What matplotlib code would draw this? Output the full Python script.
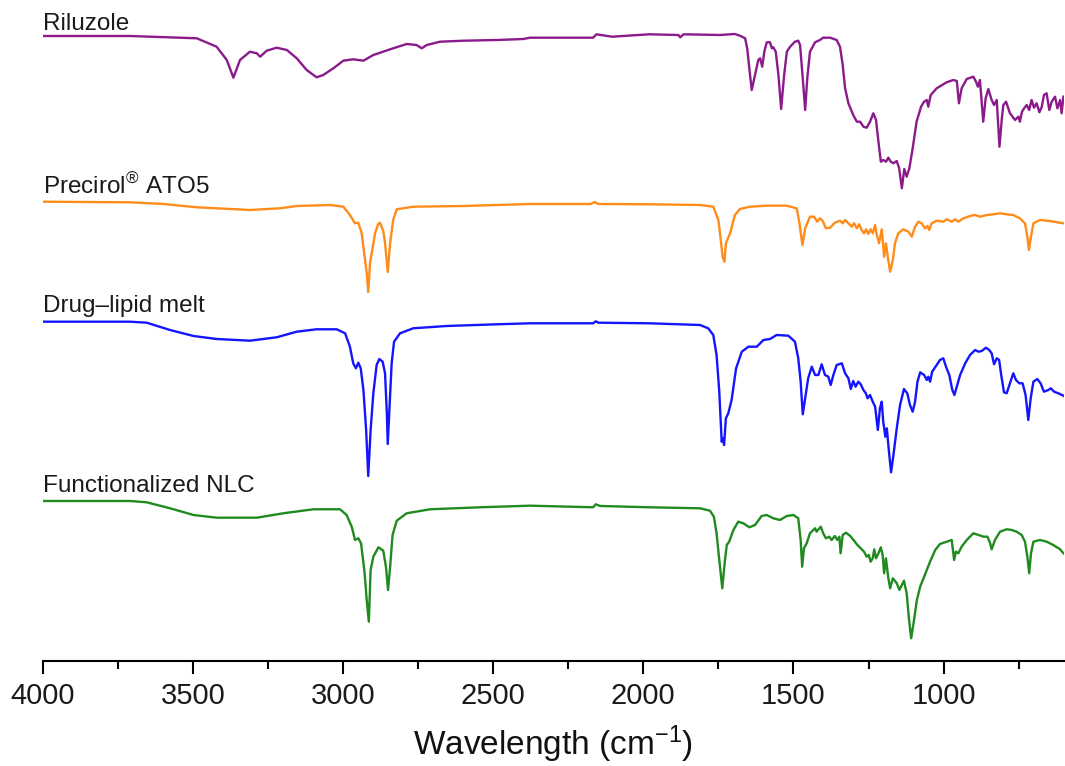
import numpy as np
import matplotlib
matplotlib.use("Agg")
import matplotlib.pyplot as plt
from matplotlib.ticker import MultipleLocator

plt.rcParams['font.family'] = ['Liberation Sans', 'DejaVu Sans']
plt.rcParams['mathtext.fontset'] = 'custom'
plt.rcParams['mathtext.rm'] = 'Liberation Sans'
plt.rcParams['mathtext.it'] = 'Liberation Sans'

# ---- data: (wavenumber cm-1, transmittance relative to baseline, a.u.) ----
riluzole = [(4000,0),(3709,0),(3487,-2.3),(3421,-10.7),(3387,-24),(3365,-41.7),(3343,-24),(3310,-15.7),
 (3287,-17.3),(3276,-20.7),(3254,-14.7),(3221,-11.7),(3187,-14),(3154,-22.3),(3121,-34),(3088,-41.3),
 (3066,-39),(3032,-32.3),(2999,-24.7),(2966,-23.3),(2932,-24.7),(2899,-19),(2843,-13.3),(2788,-8),
 (2755,-9),(2738,-12.3),(2721,-9),(2677,-5.7),(2599,-4.7),(2488,-4),(2400,-3),(2377,-1.7),(2167,-1.7),
 (2156,1.7),(2104,-0.7),(1980,1.7),(1883,1),(1877,-1.3),(1866,1.7),(1745,1),(1696,2),(1678,0.3),
 (1661,-2.3),(1654,-12.3),(1647,-32.3),(1639,-54),(1628,-39),(1617,-24),(1611,-22.3),(1604,-30.7),
 (1597,-15.7),(1589,-6.3),(1578,-6.3),(1572,-12.3),(1567,-11.3),(1559,-15.7),(1550,-39),(1541,-73),
 (1531,-39),(1522,-15.7),(1511,-10.7),(1495,-5.7),(1484,-4.7),(1478,-9),(1469,-42.3),(1461,-74),
 (1454,-42.3),(1445,-15.7),(1428,-6.3),(1412,-4),(1401,-1.7),(1378,-1.7),(1356,-4),(1345,-10.7),
 (1336,-29),(1328,-52.3),(1317,-67.3),(1301,-79),(1289,-85.7),(1278,-85.7),(1267,-90.7),(1256,-91.7),
 (1245,-85.7),(1234,-77.3),(1225,-84),(1217,-105.7),(1209,-125.7),(1201,-124),(1192,-125.7),
 (1184,-121.7),(1176,-125.7),(1167,-127.3),(1156,-125),(1148,-132.3),(1139,-152.3),(1131,-133),
 (1123,-140.7),(1114,-132.3),(1103,-112.3),(1090,-85.7),(1075,-70.7),(1065,-65.7),(1056,-64),
 (1051,-70.7),(1043,-59),(1023,-52.3),(990,-46.3),(968,-44),(956,-45),(949,-67.3),(940,-52.3),
 (923,-43),(901,-40.7),(892,-45.7),(886,-50.7),(879,-44),(868,-85.7),(860,-62.3),(851,-53),(840,-64),
 (832,-69),(823,-64),(814,-110.7),(806,-82.3),(801,-69),(792,-65.7),(779,-77.3),(762,-84),(751,-80.7),
 (746,-85.7),(739,-75.7),(732,-72.3),(723,-69),(715,-74),(707,-64),(699,-71.7),(690,-67.3),(681,-76.3),
 (673,-70.7),(666,-59),(657,-57.3),(648,-74),(640,-65.7),(629,-60.7),(621,-72.3),(612,-64),(607,-77.3),
 (601,-60.7)]

precirol = [(4000,1.3),(3709,0.7),(3598,-1),(3487,-4.3),(3310,-7),(3210,-5.3),(3154,-3),(3043,-2),
 (2999,-3.7),(2977,-12),(2960,-20.3),(2949,-19.7),(2938,-30),(2921,-70),(2916,-89),(2910,-60),
 (2893,-30),(2883,-21),(2877,-19.7),(2866,-28),(2860,-40),(2851,-69),(2843,-40),(2833,-17),
 (2821,-6.3),(2766,-3.7),(2599,-3),(2377,-1),(2175,-1),(2162,1),(2150,-1),(1978,-1.3),(1811,-2),
 (1767,-3.7),(1750,-17),(1742,-37),(1736,-53.7),(1730,-58.7),(1725,-40.3),(1711,-30.3),(1695,-12),
 (1678,-6),(1645,-3.7),(1589,-2.7),(1522,-2.7),(1489,-5.3),(1480,-20.3),(1470,-42),(1461,-25.3),
 (1445,-13.7),(1431,-13.7),(1421,-18.7),(1412,-15.3),(1403,-17.7),(1392,-25.3),(1378,-24.7),
 (1362,-19.7),(1345,-17.7),(1336,-20.3),(1328,-17),(1317,-20.3),(1306,-23.7),(1298,-20.3),
 (1289,-25.3),(1281,-21.3),(1273,-27),(1265,-30.3),(1258,-26.3),(1251,-31),(1243,-26.3),(1236,-30.3),
 (1228,-22),(1223,-31.3),(1215,-40.3),(1206,-26.3),(1198,-53.7),(1192,-40.3),(1186,-53.7),
 (1178,-68.7),(1169,-57),(1162,-40.3),(1151,-30.3),(1134,-26.3),(1117,-28.7),(1106,-33.7),
 (1095,-23.7),(1084,-18.7),(1073,-20.3),(1062,-25.3),(1054,-23),(1048,-27),(1040,-20.3),(1023,-17.7),
 (1001,-18.7),(990,-16.3),(973,-18.7),(962,-16.3),(951,-18.7),(934,-15.3),(912,-13),(895,-12),
 (879,-13.7),(856,-12),(834,-11.3),(812,-10.3),(790,-11.3),(768,-12),(746,-15.3),(729,-20.3),
 (721,-33.7),(716,-47),(709,-33.7),(701,-20.3),(679,-17),(646,-18),(601,-20.3)]

drug_lipid_melt = [(4000,2.3),(3709,2.3),(3654,1.3),(3576,-6),(3498,-12),(3421,-15),(3310,-16.7),
 (3221,-13.3),(3154,-7.7),(3088,-5.3),(3021,-5.3),(2993,-9.3),(2977,-22.7),(2966,-39.3),(2957,-44.3),
 (2949,-38.7),(2941,-44.3),(2932,-66),(2923,-106),(2916,-152),(2908,-106),(2899,-69.3),(2888,-41),
 (2879,-35),(2868,-37.7),(2860,-49.3),(2854,-89.3),(2851,-120),(2846,-89.3),(2838,-39.3),(2830,-17.7),
 (2810,-9.3),(2766,-4.3),(2655,-2),(2488,-0.3),(2377,0.7),(2167,0.7),(2158,2.7),(2150,1.3),(1980,0.7),
 (1811,-1),(1784,-4.3),(1767,-11),(1756,-31),(1747,-67.7),(1739,-117.7),(1735,-114),(1731,-121),
 (1725,-94.3),(1717,-89.3),(1706,-76),(1691,-44.3),(1672,-27.7),(1650,-22.7),(1622,-22.7),(1600,-16),
 (1578,-15),(1556,-11),(1517,-11.7),(1495,-17.7),(1484,-34.3),(1476,-57.7),(1469,-90.3),(1461,-74.3),
 (1451,-54.3),(1439,-42.7),(1428,-51),(1417,-51),(1406,-40.3),(1395,-51),(1384,-52.7),(1376,-61),
 (1367,-51),(1356,-41),(1339,-39.3),(1328,-49.3),(1317,-54.3),(1309,-65),(1301,-57),(1293,-62.7),
 (1284,-57.7),(1276,-60.3),(1267,-66),(1259,-69.3),(1253,-74.3),(1245,-71),(1236,-77.7),(1228,-82.7),
 (1219,-106),(1212,-84.3),(1206,-77.7),(1201,-97.7),(1194,-112.7),(1189,-104.3),(1182,-127.7),
 (1175,-148.3),(1167,-131),(1156,-104.3),(1145,-81),(1132,-65),(1121,-69.3),(1112,-81),(1103,-87.7),
 (1095,-77.7),(1087,-57.7),(1078,-48.3),(1065,-51),(1056,-56),(1051,-52.7),(1045,-57.7),(1038,-47.7),
 (1023,-41),(1012,-36),(1001,-34.3),(992,-42.7),(981,-51),(971,-66),(964,-71),(956,-62.7),(945,-51),
 (928,-39.3),(912,-31),(895,-26),(884,-27.7),(873,-27),(859,-23.7),(848,-26),(840,-29.3),(832,-40.3),
 (823,-34.3),(815,-36),(809,-49.3),(799,-68.3),(790,-69.3),(779,-59.3),(768,-49.3),(759,-56),
 (748,-59.3),(737,-59.3),(727,-71),(718,-96),(710,-74.3),(701,-57.7),(688,-55),(677,-59.3),
 (666,-67.7),(651,-66),(643,-64.3),(632,-67.7),(618,-69.3),(601,-71.7)]

functionalized_nlc = [(4000,1),(3709,1),(3654,-0.3),(3576,-6.3),(3498,-13),(3421,-15.7),(3287,-15.7),
 (3199,-11.3),(3099,-7.3),(3010,-7.3),(2988,-13),(2971,-24.7),(2960,-38),(2949,-36.3),(2940,-41.3),
 (2929,-68),(2921,-98),(2914,-119.7),(2908,-68),(2899,-54.7),(2882,-45.3),(2866,-48.7),(2857,-64.7),
 (2850,-88),(2843,-64.7),(2835,-33),(2821,-18.7),(2788,-11.3),(2710,-7.3),(2544,-5.3),(2377,-3.7),
 (2167,-5.3),(2158,-2.3),(2144,-4),(1980,-5.3),(1811,-6.3),(1778,-8.7),(1765,-14.7),(1756,-31.3),
 (1747,-58),(1737,-86.3),(1728,-58),(1722,-43),(1714,-39.7),(1700,-28),(1684,-19.7),(1667,-21.3),
 (1647,-25.3),(1628,-23),(1606,-14),(1589,-13),(1567,-16.3),(1545,-18),(1522,-14),(1500,-13),
 (1484,-16.3),(1476,-38),(1471,-64.7),(1465,-46.3),(1456,-41.3),(1445,-31.3),(1428,-26.3),
 (1423,-29.7),(1409,-24.7),(1401,-31.3),(1392,-36.3),(1381,-34.7),(1373,-38),(1362,-34),(1354,-38),
 (1347,-34.7),(1343,-51.3),(1336,-33),(1325,-30.7),(1311,-34),(1300,-38),(1287,-43),(1273,-47.3),
 (1265,-49.7),(1256,-54.7),(1249,-53),(1243,-59.7),(1236,-56.3),(1231,-47.3),(1225,-56.3),
 (1217,-51.3),(1209,-45.3),(1203,-53),(1198,-71.3),(1192,-56.3),(1184,-76.3),(1178,-86.3),
 (1169,-76.3),(1156,-81.3),(1147,-88),(1139,-83),(1132,-78.7),(1123,-91.3),(1115,-118),(1108,-136.3),
 (1100,-121.3),(1089,-98),(1078,-84.7),(1067,-76.3),(1056,-68),(1045,-59.7),(1028,-48),(1012,-42),
 (990,-39.7),(973,-38),(965,-58),(959,-49.7),(951,-51.3),(940,-44.7),(923,-38),(901,-31.3),(884,-33),
 (867,-34.7),(854,-34.7),(845,-41.3),(840,-47.3),(829,-38),(812,-29.7),(790,-27.3),(773,-28),
 (757,-29.7),(740,-33),(729,-39.7),(721,-54.7),(715,-71.3),(709,-51.3),(701,-39.7),(679,-38),
 (657,-39.7),(635,-43),(612,-47.3),(601,-51.3)]

series_names = ["Riluzole", "Precirol$^{\u00AE}$ ATO5", "Drug\u2013lipid melt", "Functionalized NLC"]
series_data = [riluzole, precirol, drug_lipid_melt, functionalized_nlc]
series_offsets = [625, 458, 337, 159]
label_offsets = [6, 9, 12.3, 10.3]
series_colors = ["#8B1A8B", "#FF8C1A", "#1414FF", "#1F8B1F"]

x_ticks = [4000, 3500, 3000, 2500, 2000, 1500, 1000]

# ---- figure ----
fig = plt.figure(figsize=(10.65, 7.66), dpi=100)
ax = fig.add_axes([0.0401, 0.1371, 0.9587, 0.8629])

for name, data, off, loff, col in zip(series_names, series_data, series_offsets, label_offsets, series_colors):
    arr = np.array(data, dtype=float)
    ax.plot(arr[:, 0], arr[:, 1] + off, color=col, lw=1.7, solid_joinstyle='round')
    ax.text(4000, off + loff, name, fontsize=17.5, ha='left', va='baseline', color='#1a1a1a')

ax.set_xlim(4000, 600)
ax.set_ylim(0, 661)
ax.set_xticks(x_ticks)
ax.xaxis.set_minor_locator(MultipleLocator(250))
ax.set_yticks([])
for s in ['left', 'right', 'top']:
    ax.spines[s].set_visible(False)
ax.spines['bottom'].set_linewidth(1.5)
ax.tick_params(axis='x', which='major', length=9, width=1.5, labelsize=21, pad=6, direction='out',
               labelcolor='#1a1a1a')
ax.tick_params(axis='x', which='minor', length=5.5, width=1.5, direction='out')
ax.set_xlabel("Wavelength (cm$^{-1}$)", fontsize=24, labelpad=10, color='#111111')

fig.savefig("out.png", dpi=100)
